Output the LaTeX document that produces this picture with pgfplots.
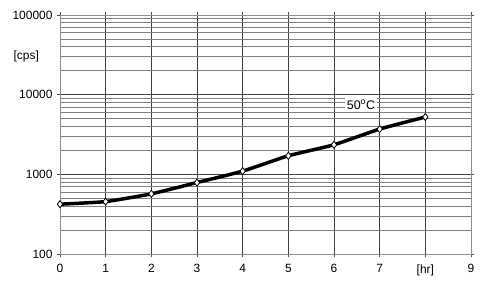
\documentclass[border=0pt]{standalone}
\usepackage{fontspec}
\setmainfont{Liberation Sans}
\usepackage{pgfplots}
\pgfplotsset{compat=1.18}
\begin{document}
\begin{tikzpicture}
\begin{axis}[
  name=ax,
  ymode=log,
  width=411bp, height=239bp, scale only axis,
  xmin=0, xmax=9, ymin=100, ymax=100000,
  xtick={0,1,2,3,4,5,6,7,8,9},
  xticklabels={0,1,2,3,4,5,6,7,{[hr]},9},
  ytick={100,1000,10000,100000},
  yticklabels={100,1000,10000,100000},
  minor ytick={200,300,400,500,600,700,800,900,2000,3000,4000,5000,6000,7000,8000,9000,20000,30000,40000,50000,60000,70000,80000,90000},
  xmajorgrids, ymajorgrids, yminorgrids,
  major grid style={black!75, line width=0.6bp},
  minor grid style={black!50, line width=0.5bp},
  axis line style={black!45, line width=0.8bp},
  tick style={black!70, line width=0.6bp},
  tick align=outside,
  major tick length=3bp, minor tick length=0pt,
  ticklabel style={font=\fontsize{12}{13}\selectfont, black},
  xticklabel style={yshift=-4bp},
  yticklabel style={xshift=-1bp},
  clip=false,
]
\addplot[black, line width=3.5bp, smooth, tension=0.3, mark=diamond*, mark size=3.6bp,
  mark options={fill=white, draw=black, line width=0.8bp}]
  coordinates {(0,422) (1,455) (2,569) (3,789) (4,1097) (5,1709) (6,2350) (7,3700) (8,5240)};
\node[fill=white, inner sep=2bp, font=\fontsize{12.5}{13}\selectfont] at (axis cs:6.59,7480) {50\textsuperscript{o}C};
\node[font=\fontsize{12}{13}\selectfont, anchor=center] at (axis cs:-0.74,30000) {[cps]};
\end{axis}
\pgfresetboundingbox
\path ([shift={(-60bp,-31bp)}]ax.south west) rectangle ([shift={(26bp,15bp)}]ax.north east);
\end{tikzpicture}
\end{document}
